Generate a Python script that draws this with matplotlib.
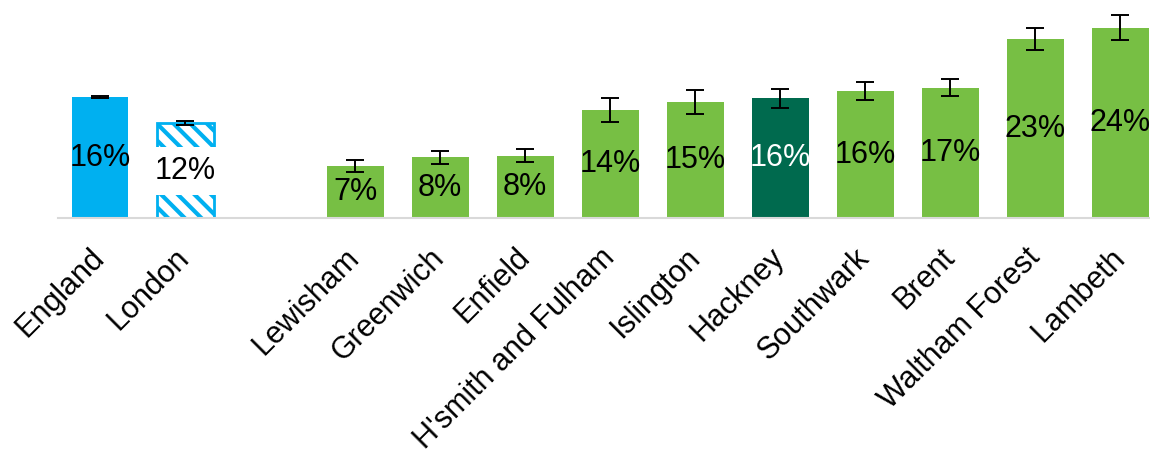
import numpy as np
import matplotlib
matplotlib.use("Agg")
import matplotlib.pyplot as plt

plt.rcParams["font.family"] = ["Liberation Sans", "DejaVu Sans"]
plt.rcParams["hatch.linewidth"] = 3.0

# data
areas = ["England", "London", "", "Lewisham", "Greenwich", "Enfield",
         "H'smith and Fulham", "Islington", "Hackney", "Southwark",
         "Brent", "Waltham Forest", "Lambeth"]
values = [15.7, 12.3, np.nan, 6.8, 7.9, 8.1, 14.0, 15.0, 15.5, 16.4,
          16.9, 23.2, 24.6]
errors = [0.1, 0.25, np.nan, 0.8, 0.85, 0.8, 1.5, 1.55, 1.25, 1.15,
          1.05, 1.4, 1.6]
labels = ["16%", "12%", "", "7%", "8%", "8%", "14%", "15%", "16%", "16%",
          "17%", "23%", "24%"]

BLUE = "#00b0f0"
GREEN = "#77bf44"
DARK = "#006a4e"

colors = [BLUE, "white", "white"] + [GREEN] * 10
colors[8] = DARK

fig = plt.figure(figsize=(11.5, 4.54), dpi=100)
ax = fig.add_axes([0.05, 0.519, 0.95, 0.481])

x = np.arange(len(areas))
bars = ax.bar(x, values, width=0.67, color=colors, linewidth=0)
# London hatched bar
bars[1].set_edgecolor(BLUE)
bars[1].set_hatch("\\\\")
bars[1].set_linewidth(2)

ax.errorbar(x, values, yerr=errors, fmt="none", ecolor="black",
            elinewidth=1.4, capsize=6.5, capthick=1.4)

for i, (v, lab) in enumerate(zip(values, labels)):
    if not lab:
        continue
    tc = "white" if i == 8 else "black"
    kw = {}
    if i == 1:
        kw["bbox"] = dict(boxstyle="square,pad=0.3", fc="white", ec="none")
    ax.text(x[i], v / 2, lab, ha="center", va="center", fontsize=22,
            color=tc, **kw)

ax.set_xlim(-0.5, 12.35)
ax.set_ylim(0, 28.2)
ax.set_xticks(x)
ax.set_xticklabels(areas, rotation=45, ha="right", va="center",
                   rotation_mode="anchor", fontsize=22)
ax.tick_params(axis="x", length=0, pad=25)
ax.set_yticks([])
for s in ["top", "right", "left"]:
    ax.spines[s].set_visible(False)
ax.spines["bottom"].set_color("#d9d9d9")
ax.spines["bottom"].set_linewidth(1.5)

fig.savefig("out.png", dpi=100)
